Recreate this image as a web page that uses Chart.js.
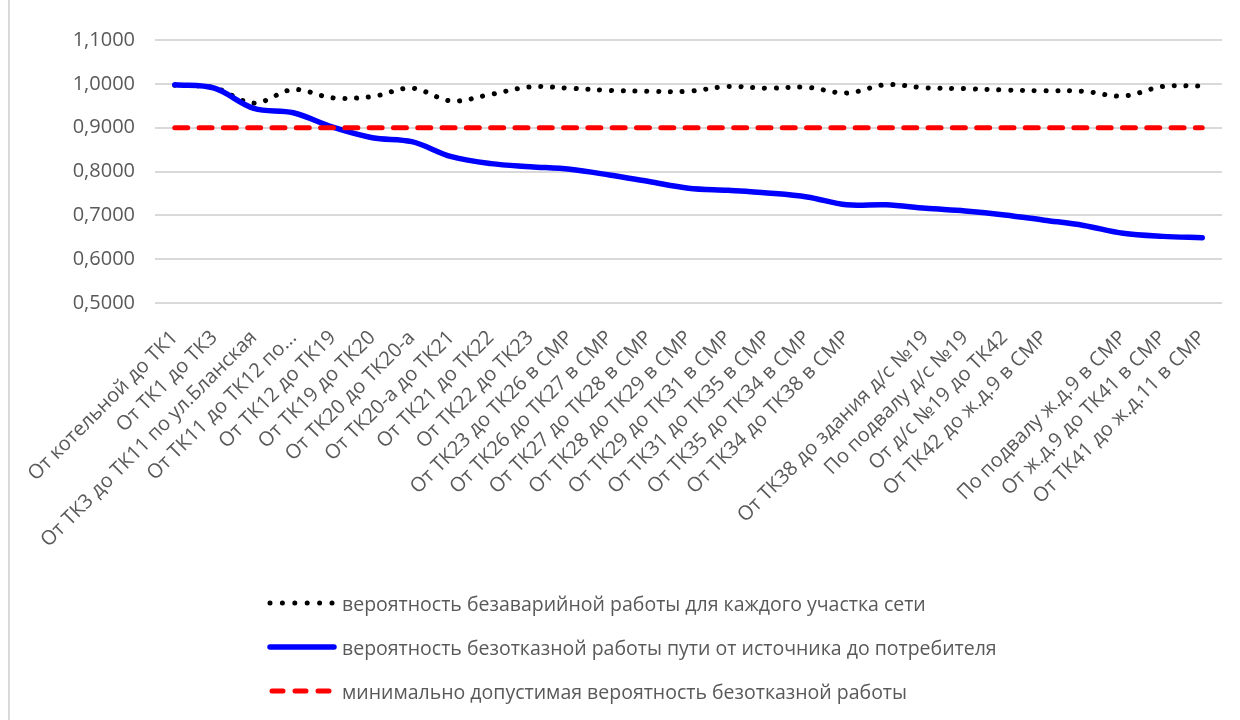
<!DOCTYPE html>
<html>
<head>
<meta charset="utf-8">
<script src="https://cdn.jsdelivr.net/npm/chart.js@4/dist/chart.umd.min.js"></script>
<style>
  body { margin: 0; background: #fff; }
  #marco { position: relative; width: 1240px; height: 720px; overflow: hidden; }
  #borde { position: absolute; left: 8px; top: 0; width: 2px; height: 720px; background: #d9d9d9; }
  #leyenda { position: absolute; left: 266px; top: 581px; font-family: "Open Sans", sans-serif; font-size: 19.5px; color: #595959; }
  .fila { display: flex; align-items: center; height: 44px; white-space: nowrap; }
  .fila svg { margin-right: 4px; }
</style>
</head>
<body>
<div id="marco">
  <canvas id="grafica" width="1240" height="720"></canvas>
  <div id="borde"></div>
  <div id="leyenda"></div>
</div>
<script>
// Участки сети (подписи оси X)
const categorias = [
  "От котельной до ТК1",
  "От ТК1 до ТК3",
  "От ТК3 до ТК11 по ул.Бланская",
  "От ТК11 до ТК12 по...",
  "От ТК12 до ТК19",
  "От ТК19 до ТК20",
  "От ТК20 до ТК20-а",
  "От ТК20-а до ТК21",
  "От ТК21 до ТК22",
  "От ТК22 до ТК23",
  "От ТК23 до ТК26 в СМР",
  "От ТК26 до ТК27 в СМР",
  "От ТК27 до ТК28 в СМР",
  "От ТК28 до ТК29 в СМР",
  "От ТК29 до ТК31 в СМР",
  "От ТК31 до ТК35 в СМР",
  "От ТК35 до ТК34 в СМР",
  "От ТК34 до ТК38 в СМР",
  "",
  "От ТК38 до здания д/с №19",
  "По подвалу д/с №19",
  "От д/с №19 до ТК42",
  "От ТК42 до ж.д.9 в СМР",
  "",
  "По подвалу ж.д.9 в СМР",
  "От ж.д.9 до ТК41 в СМР",
  "От ТК41 до ж.д.11 в СМР"
];

// вероятность безаварийной работы для каждого участка
const probUchastok = [0.997, 0.991, 0.956, 0.987, 0.968, 0.971, 0.990, 0.961, 0.976, 0.993,
  0.990, 0.985, 0.983, 0.983, 0.994, 0.990, 0.992, 0.979, 0.998, 0.991,
  0.989, 0.986, 0.984, 0.983, 0.972, 0.994, 0.995];

// вероятность безотказной работы пути
const probPut = [0.998, 0.990, 0.944, 0.934, 0.901, 0.877, 0.868, 0.834, 0.818, 0.811,
  0.805, 0.792, 0.777, 0.762, 0.757, 0.751, 0.742, 0.724, 0.724, 0.716,
  0.710, 0.701, 0.689, 0.677, 0.659, 0.652, 0.649];

// минимально допустимая
const probMin = [0.9, 0.9, 0.9, 0.9, 0.9, 0.9, 0.9, 0.9, 0.9, 0.9, 0.9, 0.9, 0.9, 0.9,
  0.9, 0.9, 0.9, 0.9, 0.9, 0.9, 0.9, 0.9, 0.9, 0.9, 0.9, 0.9, 0.9];

const nombres = [
  "вероятность безаварийной работы для каждого участка сети",
  "вероятность безотказной работы пути от источника до потребителя",
  "минимально допустимая вероятность безотказной работы"
];

const gris = "#595959";
const fuenteEje = { family: '"Open Sans", sans-serif', size: 20 };

const grafica = new Chart(document.querySelector("#grafica"), {
  type: "line",
  data: {
    labels: categorias,
    datasets: [
      {
        label: nombres[0], data: probUchastok,
        borderColor: "#000000", borderWidth: 5, borderDash: [0.1, 11.7],
        borderCapStyle: "round", pointRadius: 0, tension: 0.35, order: 3
      },
      {
        label: nombres[1], data: probPut,
        borderColor: "#0000ff", borderWidth: 5.5, borderCapStyle: "round",
        borderJoinStyle: "round", pointRadius: 0, tension: 0.35, order: 2
      },
      {
        label: nombres[2], data: probMin,
        borderColor: "#ff0000", borderWidth: 5, borderDash: [13, 11.3],
        borderCapStyle: "round", pointRadius: 0, order: 1
      }
    ]
  },
  options: {
    responsive: false,
    animation: false,
    layout: { padding: { top: 40, right: 18, left: 0, bottom: 0 } },
    plugins: { legend: { display: false }, tooltip: { enabled: false } },
    scales: {
      x: {
        offset: true,
        grid: { display: false },
        border: { display: false },
        ticks: { autoSkip: false, minRotation: 45, maxRotation: 45, padding: 15, color: gris, font: fuenteEje },
        afterFit: (s) => { s.height = 417; }
      },
      y: {
        min: 0.5, max: 1.1,
        grid: { color: "#d9d9d9", lineWidth: 2, drawTicks: false },
        border: { display: false },
        ticks: {
          stepSize: 0.1, padding: 20, color: gris, font: fuenteEje,
          callback: (v) => v.toFixed(4).replace(".", ",")
        },
        afterFit: (s) => { s.width = 155; }
      }
    }
  }
});

// легенда столбиком, как в Excel
const muestras = [
  '<line x1="4" y1="5" x2="66" y2="5" stroke="#000" stroke-width="5" stroke-linecap="round" stroke-dasharray="0 12.4"/>',
  '<line x1="4" y1="5" x2="68" y2="5" stroke="#0000ff" stroke-width="5.5" stroke-linecap="round"/>',
  '<line x1="6" y1="5" x2="66" y2="5" stroke="#ff0000" stroke-width="5" stroke-linecap="round" stroke-dasharray="11 12"/>'
];
const $leyenda = document.querySelector("#leyenda");
grafica.data.datasets.forEach((ds, i) => {
  const fila = document.createElement("div");
  fila.className = "fila";
  fila.innerHTML = '<svg width="72" height="10">' + muestras[i] + '</svg><span>' + ds.label + '</span>';
  $leyenda.appendChild(fila);
});
</script>
</body>
</html>
